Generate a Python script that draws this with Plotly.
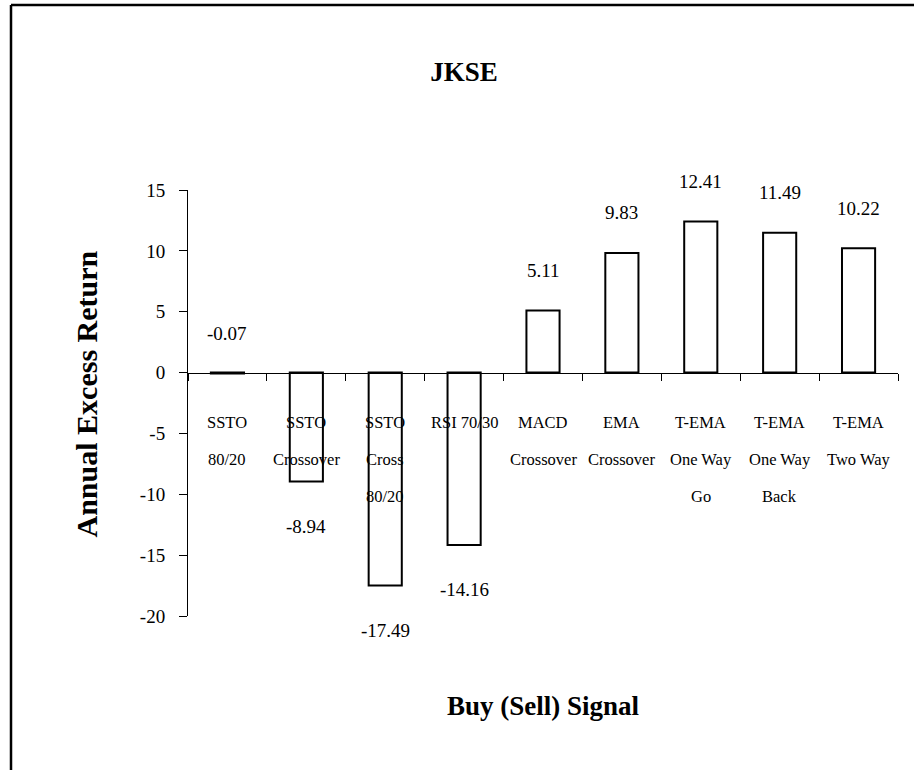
import plotly.graph_objects as go

# Trading rules and their annual excess returns on the JKSE
signal_lines = [
    ["SSTO", "80/20"],
    ["SSTO", "Crossover"],
    ["SSTO", "Cross", "80/20"],
    ["RSI 70/30"],
    ["MACD", "Crossover"],
    ["EMA", "Crossover"],
    ["T-EMA", "One Way", "Go"],
    ["T-EMA", "One Way", "Back"],
    ["T-EMA", "Two Way"],
]
excess_return = [-0.07, -8.94, -17.49, -14.16, 5.11, 9.83, 12.41, 11.49, 10.22]
value_text = ["-0.07", "-8.94", "-17.49", "-14.16", "5.11", "9.83", "12.41", "11.49", "10.22"]
y_ticks = [-20, -15, -10, -5, 0, 5, 10, 15]
y_tick_text = ["-20", "-15", "-10", "-5", "0", "5", "10", "15"]

categories = [" ".join(lines) for lines in signal_lines]
Y_MIN, Y_MAX = -20, 15

W, H = 914, 770
M_L, M_R, M_T, M_B = 188, 16, 190, 154
PLOT_W = W - M_L - M_R
PLOT_H = H - M_T - M_B

SERIF = "Liberation Serif, Times New Roman, serif"

fig = go.Figure()
fig.add_trace(go.Bar(
    x=categories,
    y=excess_return,
    width=0.42,
    marker=dict(color="white", line=dict(color="black", width=2)),
    hoverinfo="skip",
))

annotations = []

# value labels, placed off the outer end of each bar
for cat, v, txt in zip(categories, excess_return, value_text):
    above = v > -1  # near-zero bars keep their label above the baseline
    annotations.append(dict(
        x=cat, y=v, xref="x", yref="y", text=txt, showarrow=False,
        yshift=40 if above else -45, yanchor="middle",
        font=dict(family=SERIF, size=19, color="black"),
    ))

# category labels hanging below the zero line, double spaced
for cat, lines in zip(categories, signal_lines):
    for i, line in enumerate(lines):
        annotations.append(dict(
            x=cat, y=0, xref="x", yref="y", text=line, showarrow=False,
            yshift=-(50 + 37 * i), yanchor="middle",
            font=dict(family=SERIF, size=16.5, color="black"),
        ))

# axis titles
annotations.append(dict(
    x=(86 - M_L) / PLOT_W, y=0.52, xref="paper", yref="paper",
    text="<b>Annual Excess Return</b>", textangle=-90, showarrow=False,
    xanchor="center", yanchor="middle",
    font=dict(family=SERIF, size=30, color="black"),
))
annotations.append(dict(
    x=0.5, y=0, xref="paper", yref="paper",
    text="<b>Buy (Sell) Signal</b>", showarrow=False,
    yshift=-90, xanchor="center", yanchor="middle",
    font=dict(family=SERIF, size=27, color="black"),
))

def px_x(px):
    return (px - M_L) / PLOT_W

def px_y(py):
    return (H - M_B - py) / PLOT_H

# outer frame (top and left edges)
frame = [
    dict(type="line", xref="paper", yref="paper",
         x0=px_x(11), x1=px_x(W + 5), y0=px_y(5), y1=px_y(5),
         line=dict(color="black", width=2.5)),
    dict(type="line", xref="paper", yref="paper",
         x0=px_x(11), x1=px_x(11), y0=px_y(5), y1=px_y(H + 5),
         line=dict(color="black", width=2.5)),
]

fig.update_layout(
    width=W, height=H,
    margin=dict(l=M_L, r=M_R, t=M_T, b=M_B, autoexpand=False),
    paper_bgcolor="white", plot_bgcolor="white",
    showlegend=False,
    title=dict(
        text="<b>JKSE</b>", x=464 / W, xref="container", xanchor="center",
        y=1 - 72 / H, yref="container", yanchor="middle",
        font=dict(family=SERIF, size=27, color="black"),
    ),
    xaxis=dict(
        type="category", range=[-0.5, len(categories) - 0.5],
        anchor="free", position=(0 - Y_MIN) / (Y_MAX - Y_MIN),
        showline=True, linecolor="black", linewidth=1,
        ticks="outside", tickson="boundaries", ticklen=7, tickcolor="black",
        showticklabels=False, showgrid=False, zeroline=False,
    ),
    yaxis=dict(
        range=[Y_MIN, Y_MAX], tickvals=y_ticks, ticktext=y_tick_text,
        showline=True, linecolor="black", linewidth=1,
        ticks="outside", ticklen=8, tickcolor="black",
        ticklabelstandoff=10,
        tickfont=dict(family=SERIF, size=19, color="black"),
        showgrid=False, zeroline=False,
    ),
    annotations=annotations,
    shapes=frame,
)

fig.write_html("out.html")
